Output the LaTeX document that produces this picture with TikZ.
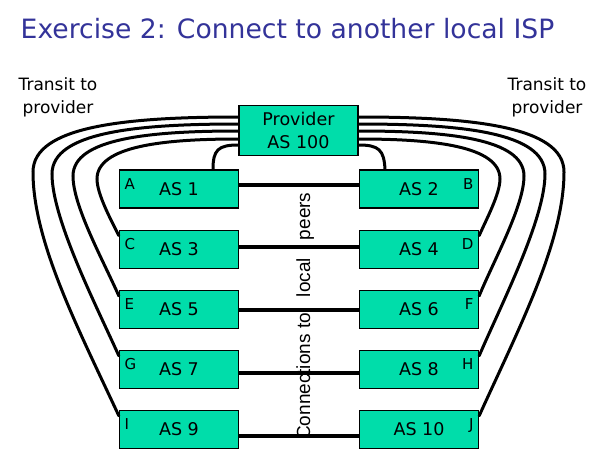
\documentclass[tikz,border=0pt]{standalone}
\usepackage{fontspec}
\setmainfont{DejaVu Sans}
\newfontfamily\lsans{Liberation Sans}
\usetikzlibrary{calc}
\definecolor{boxfill}{RGB}{0,221,170}
\definecolor{titleblue}{RGB}{51,51,153}
\begin{document}
\begin{tikzpicture}[x=1pt,y=-1pt,
  asbox/.style={draw=black, line width=1.3pt, fill=boxfill, minimum width=119pt, minimum height=38pt, inner sep=0pt, font=\fontsize{17.5}{23}\selectfont},
  letter/.style={inner sep=0pt, font=\fontsize{15}{15}\selectfont},
  transit/.style={line width=3pt, line cap=round},
  peer/.style={line width=4pt},
  side/.style={align=center, inner sep=0pt, font=\fontsize{17}{22.7}\selectfont}
]
\useasboundingbox (0,0) rectangle (600,450);

% title
\node[anchor=base west, inner sep=0pt, text=titleblue, font=\fontsize{26.6}{30}\selectfont] (title) at (20.5,38.3) {Exercise 2: Connect to another local ISP};

% side labels
\node[side] (tl) at (58,97) {Transit to\\provider};
\node[side] (tr) at (547,97) {Transit to\\provider};

% provider
\node[asbox, minimum height=49.5pt, align=center] (prov) at (298.5,130.4) {Provider\\AS 100};

% AS boxes
\node[asbox] (A) at (179,189) {AS 1};
\node[asbox] (B) at (419,189) {AS 2};
\node[asbox] (C) at (179,249.3) {AS 3};
\node[asbox] (D) at (419,249.3) {AS 4};
\node[asbox] (E) at (179,309.6) {AS 5};
\node[asbox] (F) at (419,309.6) {AS 6};
\node[asbox] (G) at (179,369.5) {AS 7};
\node[asbox] (H) at (419,369.5) {AS 8};
\node[asbox] (I) at (179,429.5) {AS 9};
\node[asbox] (J) at (419,429.5) {AS 10};

% corner letters
\foreach \n in {A,C,E,G,I}{
  \node[letter, anchor=base west] (l\n) at ($(\n.north west)+(5.5,20)$) {\n};
}
\foreach \n in {B,D,F,H,J}{
  \node[letter, anchor=base east] (l\n) at ($(\n.north east)+(-5.5,20)$) {\n};
}

% peer connections
\draw[peer] (A.east |- 0,185) -- (B.west |- 0,185);
\draw[peer] (C.east |- 0,246.5) -- (D.west |- 0,246.5);
\draw[peer] (E.east |- 0,310) -- (F.west |- 0,310);
\draw[peer] (G.east |- 0,373) -- (H.west |- 0,373);
\draw[peer] (I.east |- 0,436) -- (J.west |- 0,436);

% vertical label
\node[rotate=90, anchor=base west, inner sep=0pt, font=\lsans\fontsize{19}{19}\selectfont] (peers) at (310,440) {Connections to\hspace{16pt}local\hspace{18pt}peers};

% transit links, left
\draw[transit] (prov.west |- 0,117) .. controls (126.5,117) and (33,126) .. (33,172)
  .. controls (33,242) and (79,330) .. ($(I.north west)+(0,6)$);
\draw[transit] (prov.west |- 0,124) .. controls (137,124) and (52,132) .. (52,174)
  .. controls (52,219) and (96,305) .. ($(G.north west)+(0,6)$);
\draw[transit] (prov.west |- 0,131) .. controls (149.5,131) and (73,138.5) .. (73,176)
  .. controls (73,206) and (103,260) .. ($(E.north west)+(0,6)$);
\draw[transit] (prov.west |- 0,139) .. controls (165,139) and (97,145.7) .. (97,179)
  .. controls (97,194) and (111,220) .. ($(C.north west)+(0,6)$);
\draw[transit] (prov.west |- 0,145) .. controls (218,145) and (213,150) .. ([xshift=34pt]A.north);

% transit links, right
\draw[transit] (prov.east |- 0,117) .. controls (470.5,117) and (564,126) .. (564,172)
  .. controls (564,242) and (518,330) .. ($(J.north east)+(0,6)$);
\draw[transit] (prov.east |- 0,124) .. controls (460,124) and (545,132) .. (545,174)
  .. controls (545,219) and (501,305) .. ($(H.north east)+(0,6)$);
\draw[transit] (prov.east |- 0,131) .. controls (447.5,131) and (524,138.5) .. (524,176)
  .. controls (524,206) and (494,260) .. ($(F.north east)+(0,6)$);
\draw[transit] (prov.east |- 0,139) .. controls (432,139) and (500,145.7) .. (500,179)
  .. controls (500,194) and (486,220) .. ($(D.north east)+(0,6)$);
\draw[transit] (prov.east |- 0,145) .. controls (379,145) and (384,150) .. ([xshift=-34pt]B.north);
\end{tikzpicture}
\end{document}
